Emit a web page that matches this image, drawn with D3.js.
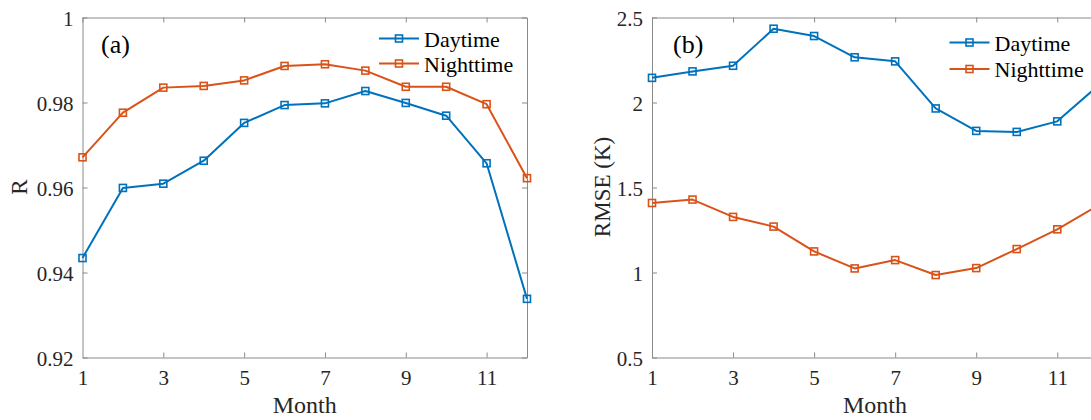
<!DOCTYPE html>
<html>
<head>
<meta charset="utf-8">
<script src="https://cdn.jsdelivr.net/npm/d3@7"></script>
<style>
  body { margin: 0; background: #fff; }
  svg { display: block; }
  svg text { font-family: "Liberation Serif", "Times New Roman", serif; }
</style>
</head>
<body>
<svg id="chart" width="1091" height="420"></svg>
<script>
// monthly validation statistics
const months = [1, 2, 3, 4, 5, 6, 7, 8, 9, 10, 11, 12];
const monthTicks = [1, 3, 5, 7, 9, 11];

const rDay = [0.9434, 0.9599, 0.9609, 0.9663, 0.9752, 0.9794, 0.9798, 0.9827, 0.9799, 0.9769, 0.9657, 0.9338];
const rNight = [0.9671, 0.9776, 0.9835, 0.9839, 0.9852, 0.9886, 0.9890, 0.9875, 0.9837, 0.9837, 0.9796, 0.9622];
const rTicks = [0.92, 0.94, 0.96, 0.98, 1];
const rTickLabels = ['0.92', '0.94', '0.96', '0.98', '1'];

const rmseDay = [2.145, 2.183, 2.216, 2.434, 2.391, 2.266, 2.242, 1.965, 1.833, 1.827, 1.889, 2.098];
const rmseNight = [1.409, 1.429, 1.327, 1.270, 1.124, 1.024, 1.073, 0.985, 1.026, 1.138, 1.254, 1.393];
const rmseTicks = [0.5, 1, 1.5, 2, 2.5];
const rmseTickLabels = ['0.5', '1', '1.5', '2', '2.5'];

const seriesNames = ['Daytime', 'Nighttime'];
const colors = { Daytime: '#0072BD', Nighttime: '#D95319' };

const axisColor = '#8a8a8a';
const textColor = '#262626';
const plotTop = 17.5, plotBottom = 357.5;

const svg = d3.select('#chart');

function drawPanel(opts) {
    const x = d3.scaleLinear().domain([1, 12]).range([opts.left, opts.right]);
    const y = d3.scaleLinear().domain(opts.yDomain).range([plotBottom, plotTop]);
    const g = svg.append('g');

    // box axes, ticks pointing inward
    const gx = g.append('g').attr('transform', `translate(0,${plotBottom})`)
        .call(d3.axisBottom(x).tickValues(monthTicks).tickSizeInner(-5).tickSizeOuter(0).tickPadding(13));
    const gy = g.append('g').attr('transform', `translate(${opts.left},0)`)
        .call(d3.axisLeft(y).tickValues(opts.yTicks).tickSizeInner(-5).tickSizeOuter(0).tickPadding(9)
            .tickFormat((d, i) => opts.yTickLabels[i]));
    g.append('g').attr('transform', `translate(0,${plotTop})`)
        .call(d3.axisTop(x).tickValues(monthTicks).tickSizeInner(-5).tickSizeOuter(0).tickFormat(''));
    g.append('g').attr('transform', `translate(${opts.right},0)`)
        .call(d3.axisRight(y).tickValues(opts.yTicks).tickSizeInner(-5).tickSizeOuter(0).tickFormat(''));

    // d3 axes put sans-serif / size 10 on their group; drop that
    g.selectAll('g').attr('font-family', null).attr('font-size', null);
    g.selectAll('.domain, .tick line').attr('stroke', axisColor);
    g.selectAll('.tick text').attr('fill', textColor).attr('font-size', 21);
    gy.selectAll('.tick text').attr('dy', '0.4em');
    gx.selectAll('.tick').filter(d => d === 1).select('line').remove();

    // axis titles
    g.append('text')
        .attr('x', (opts.left + opts.right) / 2).attr('y', 413)
        .attr('text-anchor', 'middle').attr('font-size', 24).attr('fill', textColor)
        .text('Month');
    g.append('text')
        .attr('transform', `translate(${opts.yLabelX},187) rotate(-90)`)
        .attr('text-anchor', 'middle').attr('font-size', 23).attr('fill', textColor)
        .text(opts.yLabel);

    // panel tag
    g.append('text')
        .attr('x', opts.tagX).attr('y', 53)
        .attr('font-size', 26).attr('fill', '#000')
        .text(opts.tag);

    const line = d3.line().x((d, i) => x(months[i])).y(d => y(d));

    opts.series.forEach(s => {
        const c = colors[s.name];
        g.append('path').datum(s.values)
            .attr('fill', 'none').attr('stroke', c).attr('stroke-width', 2)
            .attr('stroke-linejoin', 'round')
            .attr('d', line);
        g.selectAll(null).data(s.values).enter().append('rect')
            .attr('x', (d, i) => x(months[i]) - 3.5)
            .attr('y', d => y(d) - 3.5)
            .attr('width', 7).attr('height', 7)
            .attr('fill', 'none').attr('stroke', c).attr('stroke-width', 1.6);
    });

    // legend
    const lg = g.append('g');
    seriesNames.forEach((name, i) => {
        const ly = opts.legendY + i * opts.legendStep;
        const c = colors[name];
        lg.append('line')
            .attr('x1', opts.legendX).attr('x2', opts.legendX + 40)
            .attr('y1', ly).attr('y2', ly)
            .attr('stroke', c).attr('stroke-width', 2);
        lg.append('rect')
            .attr('x', opts.legendX + 20 - 3.5).attr('y', ly - 3.5)
            .attr('width', 7).attr('height', 7)
            .attr('fill', 'none').attr('stroke', c).attr('stroke-width', 1.6);
        lg.append('text')
            .attr('x', opts.legendX + 45).attr('y', ly + 8)
            .attr('font-size', 22).attr('fill', '#000')
            .text(name);
    });
}

drawPanel({
    left: 82.5, right: 527,
    yDomain: [0.92, 1], yTicks: rTicks, yTickLabels: rTickLabels,
    yLabel: 'R', yLabelX: 27,
    tag: '(a)', tagX: 101,
    legendX: 379, legendY: 38.5, legendStep: 25,
    series: [{ name: 'Daytime', values: rDay }, { name: 'Nighttime', values: rNight }]
});

drawPanel({
    left: 652, right: 1097.8,
    yDomain: [0.5, 2.5], yTicks: rmseTicks, yTickLabels: rmseTickLabels,
    yLabel: 'RMSE (K)', yLabelX: 610,
    tag: '(b)', tagX: 673,
    legendX: 949.5, legendY: 42.5, legendStep: 26.5,
    series: [{ name: 'Daytime', values: rmseDay }, { name: 'Nighttime', values: rmseNight }]
});
</script>
</body>
</html>
